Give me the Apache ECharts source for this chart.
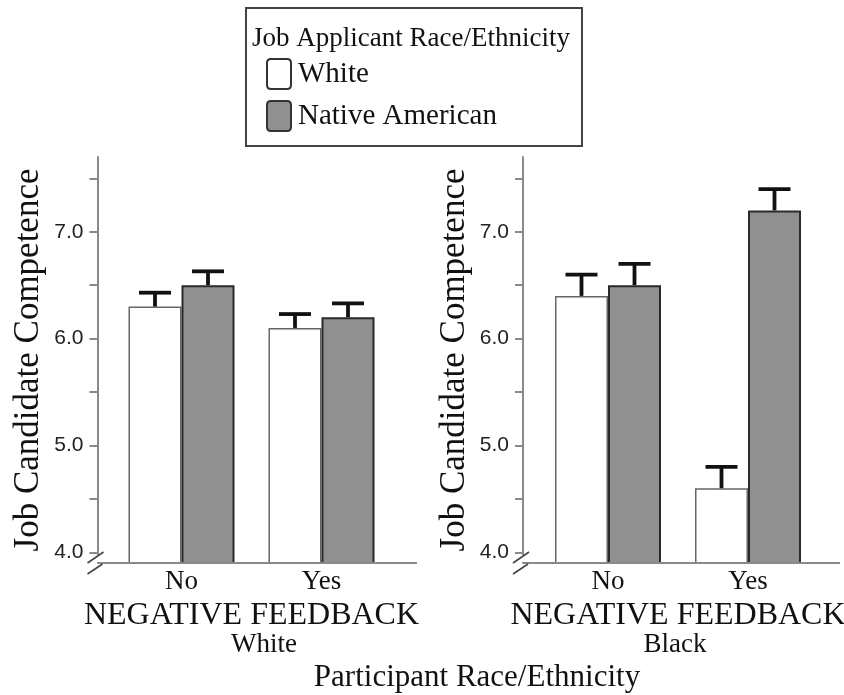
<!DOCTYPE html>
<html><head><meta charset="utf-8">
<script src="https://cdn.jsdelivr.net/npm/echarts@6/dist/echarts.min.js"></script>
<style>html,body{margin:0;padding:0;background:#fff}#c{width:844px;height:695px}</style>
</head><body><div id="c"></div>
<script>
// ---- data ----
const categories = ['No', 'Yes'];
const panelNames = ['White', 'Black'];
const seriesNames = ['White', 'Native American'];
const legendTitle = 'Job Applicant Race/Ethnicity';
const yAxisTitle = 'Job Candidate Competence';
const xAxisTitle = 'NEGATIVE FEEDBACK';
const bottomTitle = 'Participant Race/Ethnicity';
// Panel 1: White participants
const whitePart_whiteApp = [6.3, 6.1];
const whitePart_nativeApp = [6.5, 6.2];
const whitePart_whiteErr = [0.13, 0.13];
const whitePart_nativeErr = [0.13, 0.13];
// Panel 2: Black participants
const blackPart_whiteApp = [6.4, 4.6];
const blackPart_nativeApp = [6.5, 7.2];
const blackPart_whiteErr = [0.2, 0.2];
const blackPart_nativeErr = [0.2, 0.2];
const yTickValues = [4, 4.5, 5, 5.5, 6, 6.5, 7, 7.5];
const yLabelValues = [4, 5, 6, 7];
const yMin = 3.9, yMax = 7.7;

// ---- style ----
const SERIF = '"Liberation Serif", "Times New Roman", serif';
const SANS = '"Liberation Sans", Arial, sans-serif';
const BAR_W = 53, CAP = 32;
const AXIS_C = '#8a8a8a';
const whiteStyle = { color: '#ffffff', borderColor: '#666', borderWidth: 1.5 };
const grayStyle = { color: '#909090', borderColor: '#2a2a2a', borderWidth: 2 };

const panels = [
  { vals: [whitePart_whiteApp, whitePart_nativeApp], errs: [whitePart_whiteErr, whitePart_nativeErr], left: 111.5, yOff: 14 },
  { vals: [blackPart_whiteApp, blackPart_nativeApp], errs: [blackPart_whiteErr, blackPart_nativeErr], left: 538, yOff: 15 }
];

function errRender(params, api) {
  const ci = api.value(0), v = api.value(1), e = api.value(2), k = api.value(3);
  const base = api.coord([ci, v]);
  const top = api.coord([ci, v + e]);
  const x = base[0] + (k - 0.5) * BAR_W;
  const st = { stroke: '#111', lineWidth: 3.8 };
  return { type: 'group', children: [
    { type: 'line', shape: { x1: x, y1: base[1], x2: x, y2: top[1] }, style: st },
    { type: 'line', shape: { x1: x - CAP / 2, y1: top[1], x2: x + CAP / 2, y2: top[1] }, style: st }
  ]};
}

const grid = [], xAxis = [], yAxis = [], series = [];
panels.forEach((p, i) => {
  grid.push({ left: p.left, top: 157, width: 280, height: 406, containLabel: false, outerBoundsMode: 'none' });
  xAxis.push({
    type: 'category', gridIndex: i, data: categories,
    axisLine: { show: false }, axisTick: { show: false },
    axisLabel: { fontFamily: SERIF, fontSize: 27, color: '#111', margin: 5 },
    name: xAxisTitle, nameLocation: 'middle', nameGap: 34,
    nameTextStyle: { fontFamily: SERIF, fontSize: 32, color: '#111' }
  });
  yAxis.push({
    type: 'value', gridIndex: i, min: yMin, max: yMax, offset: p.yOff,
    splitLine: { show: false },
    axisLine: { show: true, lineStyle: { color: AXIS_C, width: 2 } },
    axisTick: { show: true, length: 8, lineStyle: { color: AXIS_C, width: 2 }, customValues: yTickValues },
    axisLabel: { fontFamily: SANS, fontSize: 21, color: '#222', margin: 14, customValues: yLabelValues,
      formatter: v => v.toFixed(1) },
    name: yAxisTitle, nameLocation: 'middle', nameGap: 51, nameRotate: 90,
    nameTextStyle: { fontFamily: SERIF, fontSize: 35, color: '#111' }
  });
  [0, 1].forEach(k => {
    series.push({
      type: 'bar', name: seriesNames[k], xAxisIndex: i, yAxisIndex: i,
      data: p.vals[k], barWidth: BAR_W, barGap: '0%',
      itemStyle: k === 0 ? whiteStyle : grayStyle, silent: true
    });
  });
  series.push({
    type: 'custom', xAxisIndex: i, yAxisIndex: i, renderItem: errRender, silent: true,
    encode: { x: 0, y: 1 },
    data: [0, 1].flatMap(k => p.vals[k].map((v, ci) => [ci, v, p.errs[k][ci], k])),
    z: 5
  });
});

const graphics = [
  { type: 'rect', shape: { x: 246, y: 8, width: 336, height: 138 }, style: { fill: 'none', stroke: '#444', lineWidth: 2 } },
  { type: 'text', x: 252, y: 39, style: { text: legendTitle, font: '27px ' + SERIF, fill: '#111', textVerticalAlign: 'middle' } },
  { type: 'text', x: 264, y: 645, style: { text: panelNames[0], font: '27px ' + SERIF, fill: '#111', textAlign: 'center', textVerticalAlign: 'middle' } },
  { type: 'text', x: 675, y: 645, style: { text: panelNames[1], font: '27px ' + SERIF, fill: '#111', textAlign: 'center', textVerticalAlign: 'middle' } },
  { type: 'text', x: 477, y: 678, style: { text: bottomTitle, font: '31px ' + SERIF, fill: '#111', textAlign: 'center', textVerticalAlign: 'middle' } }
];
// x-axis baselines and axis break marks
[[97.5, 417], [523, 840]].forEach(([ax, x2]) => {
  graphics.push({ type: 'rect', z: 100, shape: { x: ax - 2, y: 555, width: 4, height: 7 }, style: { fill: '#fff' } });
  graphics.push({ type: 'line', z: 101, shape: { x1: ax, y1: 563, x2: x2, y2: 563 }, style: { stroke: AXIS_C, lineWidth: 2 } });
  graphics.push({ type: 'line', z: 102, shape: { x1: ax - 10, y1: 563, x2: ax + 6, y2: 552 }, style: { stroke: '#444', lineWidth: 1.6 } });
  graphics.push({ type: 'line', z: 102, shape: { x1: ax - 10, y1: 574, x2: ax + 5, y2: 564 }, style: { stroke: '#444', lineWidth: 1.6 } });
});

const chart = echarts.init(document.getElementById('c'));
chart.setOption({
  animation: false,
  backgroundColor: '#fff',
  grid, xAxis, yAxis, series,
  legend: {
    orient: 'vertical', left: 261, top: 53, itemWidth: 24, itemHeight: 30, itemGap: 10,
    icon: 'path://M4,0 H20 Q24,0 24,4 V26 Q24,30 20,30 H4 Q0,30 0,26 V4 Q0,0 4,0 Z',
    selectedMode: false,
    textStyle: { fontFamily: SERIF, fontSize: 29, color: '#111', padding: [0, 0, 0, 2] },
    data: [
      { name: seriesNames[0], itemStyle: { color: '#fff', borderColor: '#333', borderWidth: 2 } },
      { name: seriesNames[1], itemStyle: { color: '#909090', borderColor: '#333', borderWidth: 2 } }
    ]
  },
  graphic: graphics
});
</script></body></html>
